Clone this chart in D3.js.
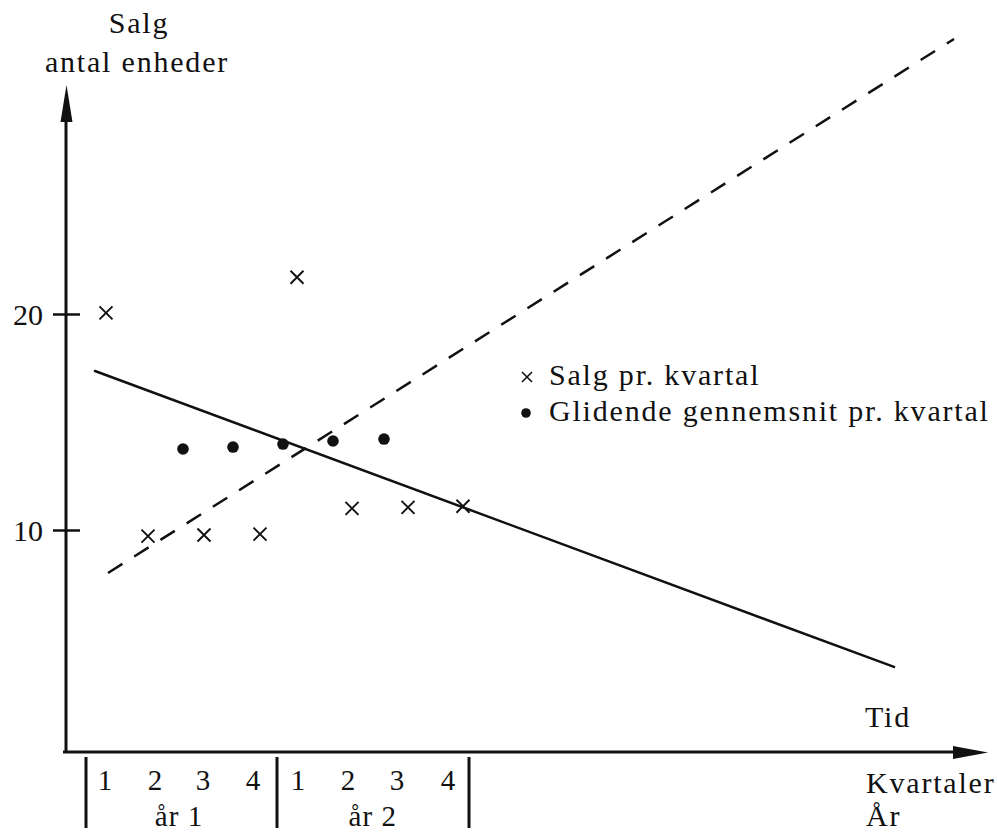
<!DOCTYPE html>
<html>
<head>
<meta charset="utf-8">
<script src="https://cdn.jsdelivr.net/npm/d3@7"></script>
<style>
  html, body { margin: 0; padding: 0; background: #fff; }
  svg { display: block; }
  text { font-family: "Liberation Serif", "Times New Roman", serif; fill: #111; }
</style>
</head>
<body>
<div id="chart"></div>
<script>
// Salg pr. kvartal med glidende gennemsnit og to trendlinjer.
// Tid måles i kvartaler (1 = år 1 kvartal 1).
const salgTid = [1.02, 1.86, 2.98, 4.1, 4.84, 5.94, 7.06, 8.16];
const salgVaerdi = [20.05, 9.72, 9.77, 9.81, 21.7, 11.0, 11.05, 11.1];
const gnsTid = [2.56, 3.56, 4.56, 5.56, 6.58];
const gnsVaerdi = [13.75, 13.84, 13.98, 14.12, 14.21];
const fuldLinje = [[0.8, 17.36], [16.78, 3.66]];
const stipletLinje = [[1.06, 8.01], [17.98, 32.73]];
const yTicks = [10, 20];
const kvartalTid = [1, 2, 2.96, 3.96, 4.86, 5.86, 6.84, 7.86];
const kvartalNavn = ["1", "2", "3", "4", "1", "2", "3", "4"];
const aarNavn = ["år 1", "år 2"];
const aarSkel = [0.62, 4.44, 8.28];
const legendTekst = ["Salg pr. kvartal", "Glidende gennemsnit pr. kvartal"];

const W = 997, H = 834;
const origin = { x: 66, y: 752 };
const yTop = 85, xRight = 988;

const x = d3.scaleLinear().domain([1, 9]).range([105, 505]);
const y = d3.scaleLinear().domain([0, 20]).range([746, 314]);

const svg = d3.select("#chart").append("svg").attr("width", W).attr("height", H);

// akser med pile
svg.append("line").attr("x1", origin.x).attr("y1", origin.y).attr("x2", origin.x).attr("y2", yTop + 20)
  .attr("stroke", "#111").attr("stroke-width", 3);
svg.append("path").attr("d", `M${origin.x + 0.5},${yTop} L${origin.x + 6.5},${yTop + 37} L${origin.x - 5.5},${yTop + 37} Z`)
  .attr("fill", "#111");
svg.append("line").attr("x1", origin.x - 3).attr("y1", origin.y).attr("x2", xRight - 20).attr("y2", origin.y)
  .attr("stroke", "#111").attr("stroke-width", 3);
svg.append("path").attr("d", `M${xRight},${origin.y + 0.5} L${xRight - 35},${origin.y - 6} L${xRight - 35},${origin.y + 7} Z`)
  .attr("fill", "#111");

// y-ticks, krydser aksen
const gy = svg.append("g").attr("transform", `translate(${origin.x},0)`)
  .call(d3.axisLeft(y).tickValues(yTicks).tickSize(13).tickPadding(10).tickFormat(d3.format("d")));
gy.select(".domain").remove();
gy.selectAll(".tick line").attr("x2", -13).attr("x1", 14).attr("stroke", "#111").attr("stroke-width", 2.5);
gy.selectAll(".tick text").attr("font-size", 30).attr("font-family", "Liberation Serif").attr("fill", "#111")
  .attr("x", -23).attr("dy", "0.36em");

// trendlinjer
const line = d3.line().x((d) => x(d[0])).y((d) => y(d[1]));
svg.append("path").attr("d", line(fuldLinje)).attr("fill", "none")
  .attr("stroke", "#111").attr("stroke-width", 2.5).attr("stroke-linecap", "round");
svg.append("path").attr("d", line(stipletLinje)).attr("fill", "none")
  .attr("stroke", "#111").attr("stroke-width", 2.5).attr("stroke-dasharray", "17 14");

// kryds = salg
const kryds = (s) => `M${-s},${-s}L${s},${s}M${-s},${s}L${s},${-s}`;
svg.append("g").selectAll("path").data(salgTid).join("path")
  .attr("transform", (d, i) => `translate(${x(d)},${y(salgVaerdi[i])})`)
  .attr("d", kryds(6.5)).attr("stroke", "#111").attr("stroke-width", 1.9).attr("fill", "none");

// prikker = glidende gennemsnit
svg.append("g").selectAll("circle").data(gnsTid).join("circle")
  .attr("cx", (d) => x(d)).attr("cy", (d, i) => y(gnsVaerdi[i])).attr("r", 5.8).attr("fill", "#111");

// aksetitler
const titel = (t, tx, ty, anchor) => svg.append("text").attr("x", tx).attr("y", ty)
  .attr("font-size", 30).attr("letter-spacing", 1.8).attr("text-anchor", anchor || "start").text(t);
titel("Salg", 139, 33, "middle");
titel("antal enheder", 137, 72, "middle");
titel("Tid", 865, 727);
titel("Kvartaler", 866, 793);
titel("År", 866, 826);

// legende
const lg = svg.append("g").attr("transform", "translate(527,0)");
lg.append("path").attr("transform", "translate(0,377)").attr("d", kryds(5))
  .attr("stroke", "#111").attr("stroke-width", 1.6);
lg.append("circle").attr("cx", -1).attr("cy", 413).attr("r", 4.8).attr("fill", "#111");
lg.selectAll("text").data(legendTekst).join("text")
  .attr("x", 22).attr("y", (d, i) => 385 + i * 36)
  .attr("font-size", 30).attr("letter-spacing", 1.8).text((d) => d);

// kvartaler og år under x-aksen
svg.append("g").selectAll("text").data(kvartalTid).join("text")
  .attr("x", (d) => x(d)).attr("y", 790).attr("text-anchor", "middle")
  .attr("font-size", 29).text((d, i) => kvartalNavn[i]);
svg.append("g").selectAll("line").data(aarSkel).join("line")
  .attr("x1", (d) => x(d)).attr("x2", (d) => x(d)).attr("y1", 757).attr("y2", 828)
  .attr("stroke", "#111").attr("stroke-width", 3);
svg.append("g").selectAll("text").data(aarNavn).join("text")
  .attr("x", (d, i) => x(d3.mean(kvartalTid.slice(i * 4, i * 4 + 4))))
  .attr("y", 826).attr("text-anchor", "middle").attr("font-size", 29).attr("letter-spacing", 1)
  .text((d) => d);
</script>
</body>
</html>
